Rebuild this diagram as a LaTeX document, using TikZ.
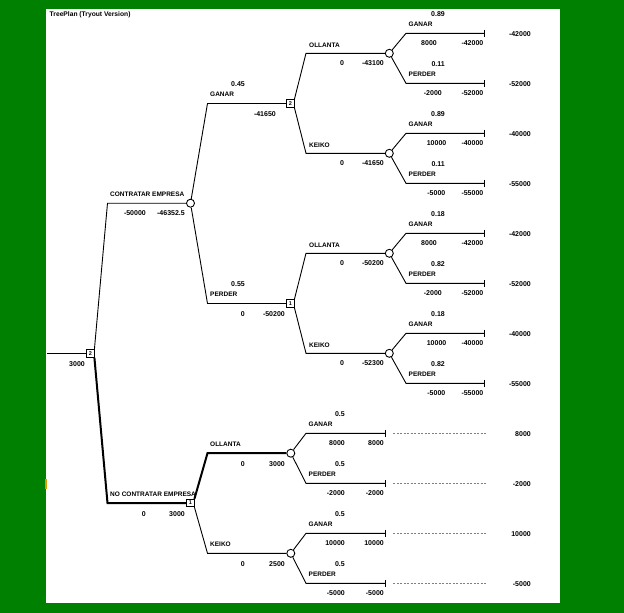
\documentclass[tikz,border=0pt]{standalone}
\usepackage{fontspec}
\setmainfont{Liberation Sans}
\definecolor{bggreen}{RGB}{0,128,0}
\definecolor{edgemark}{RGB}{230,150,0}
\tikzset{
  dec/.style={draw, rectangle, fill=white, minimum size=7.3pt, inner sep=0pt, line width=0.9pt, font=\fontsize{5.5}{6}\selectfont\bfseries},
  chn/.style={draw, circle, fill=white, minimum size=8pt, inner sep=0pt, line width=0.9pt},
  br/.style={line width=0.9pt},
  opt/.style={line width=2pt},
  dotline/.style={gray, line width=0.8pt, dash pattern=on 2pt off 1.5pt},
  num/.style={font=\fontsize{7}{8}\selectfont\bfseries, inner sep=0pt},
  lbl/.style={font=\fontsize{6.5}{7}\selectfont\bfseries, inner sep=0pt},
  ttl/.style={font=\fontsize{6.7}{7}\selectfont\bfseries, inner sep=0pt}
}
% upper terminal branch: id, parent, y, prob, label, cash, cash right x, value
\newcommand{\UTerm}[8]{%
  \coordinate (#1s) at (406,#3);
  \coordinate (#1e) at (484,#3);
  \draw[br] (#2) -- (#1s) -- (#1e);
  \draw[br] ([yshift=3.5pt]#1e) -- ([yshift=-3.5pt]#1e);
  \node[num,anchor=base east] (#1p) at (445,{#3-16.6}) {#4};
  \node[lbl,anchor=base west] (#1n) at (408.5,{#3-6.6}) {#5};
  \node[num,anchor=base east] (#1c) at (#7,{#3+12.4}) {#6};
  \node[num,anchor=base east] (#1v) at (483.5,{#3+12.4}) {#8};
  \node[num,anchor=base east] (#1t) at (531,{#3+2.7}) {#8};
}
% lower terminal branch: id, parent, y, prob, label, cash, value
\newcommand{\LTerm}[7]{%
  \coordinate (#1s) at (306,#3);
  \coordinate (#1e) at (385.3,#3);
  \coordinate (#1a) at (393,#3);
  \coordinate (#1d) at (486,#3);
  \draw[br] (#2) -- (#1s) -- (#1e);
  \draw[br] ([yshift=3.5pt]#1e) -- ([yshift=-3.5pt]#1e);
  \draw[dotline] (#1a) -- (#1d);
  \node[num,anchor=base east] (#1p) at (345,{#3-16.6}) {#4};
  \node[lbl,anchor=base west] (#1n) at (308.5,{#3-6.6}) {#5};
  \node[num,anchor=base east] (#1c) at (345,{#3+12.4}) {#6};
  \node[num,anchor=base east] (#1v) at (384,{#3+12.4}) {#7};
  \node[num,anchor=base east] (#1t) at (531,{#3+2.7}) {#7};
}
\begin{document}
\begin{tikzpicture}[x=1pt,y=-1pt]
\useasboundingbox (0,0) rectangle (624,613);
\fill[bggreen] (0,0) rectangle (624,613);
\fill[white] (46,9) rectangle (560,602.7);
\fill[edgemark] (45,479) rectangle (47.3,489);

\node[ttl,anchor=base west] (title) at (49.5,16.5) {TreePlan (Tryout Version)};

% nodes
\node[dec] (r) at (90.3,353.5) {2};
\coordinate (rin) at (47,353.5);
\node[chn] (c1) at (190.5,203.2) {};
\coordinate (c1s) at (107.5,203.2);
\node[dec] (d1) at (190.3,503) {1};
\coordinate (d1s) at (107.5,503);
\node[dec] (g) at (290.3,103.5) {2};
\coordinate (gs) at (207.5,103.5);
\node[dec] (p) at (290.3,303.5) {1};
\coordinate (ps) at (207.5,303.5);
\node[chn] (go) at (389.3,53.3) {};
\coordinate (gos) at (306,53.3);
\node[chn] (gk) at (389.3,153.3) {};
\coordinate (gks) at (306,153.3);
\node[chn] (po) at (389.3,253.3) {};
\coordinate (pos) at (306,253.3);
\node[chn] (pk) at (389.3,353.3) {};
\coordinate (pks) at (306,353.3);
\node[chn] (lo) at (290.8,453.2) {};
\coordinate (los) at (207.5,453.2);
\node[chn] (lk) at (290.8,553.3) {};
\coordinate (lks) at (207.5,553.3);

% connectors
\draw[br] (rin) -- (r);
\draw[br] (r.north east) -- (c1s) -- (c1);
\draw[opt] (r.south east) -- (d1s) -- (d1);
\draw[br] (c1) -- (gs) -- (g);
\draw[br] (c1) -- (ps) -- (p);
\draw[br] (g.north east) -- (gos) -- (go);
\draw[br] (g.south east) -- (gks) -- (gk);
\draw[br] (p.north east) -- (pos) -- (po);
\draw[br] (p.south east) -- (pks) -- (pk);
\draw[opt] (d1.north east) -- (los) -- (lo);
\draw[br] (d1.south east) -- (lks) -- (lk);

% labels
\node[num,anchor=base east] (rv) at (85,366.7) {3000};
\node[lbl,anchor=base west] (c1n) at (110,196.6) {CONTRATAR EMPRESA};
\node[num,anchor=base east] (c1c) at (146,215.9) {-50000};
\node[num,anchor=base east] (c1v) at (185,215.9) {-46352.5};
\node[lbl,anchor=base west] (d1n) at (110,496.7) {NO CONTRATAR EMPRESA};
\node[num,anchor=base east] (d1c) at (146,516.7) {0};
\node[num,anchor=base east] (d1v) at (185,516.7) {3000};
\node[num,anchor=base east] (gp) at (245,86.8) {0.45};
\node[lbl,anchor=base west] (gn) at (210,96.8) {GANAR};
\node[num,anchor=base east] (gv) at (276,116.8) {-41650};
\node[num,anchor=base east] (pp) at (245,286.9) {0.55};
\node[lbl,anchor=base west] (pn) at (210,296.9) {PERDER};
\node[num,anchor=base east] (pc) at (245,316.9) {0};
\node[num,anchor=base east] (pv) at (285,316.9) {-50200};
\node[lbl,anchor=base west] (gon) at (309,47) {OLLANTA};
\node[num,anchor=base east] (goc) at (344.3,65.3) {0};
\node[num,anchor=base east] (gov) at (384,65.3) {-43100};
\node[lbl,anchor=base west] (gkn) at (309,147) {KEIKO};
\node[num,anchor=base east] (gkc) at (344.3,165.3) {0};
\node[num,anchor=base east] (gkv) at (384,165.3) {-41650};
\node[lbl,anchor=base west] (pon) at (309,247) {OLLANTA};
\node[num,anchor=base east] (poc) at (344.3,265.3) {0};
\node[num,anchor=base east] (pov) at (384,265.3) {-50200};
\node[lbl,anchor=base west] (pkn) at (309,347) {KEIKO};
\node[num,anchor=base east] (pkc) at (344.3,365.3) {0};
\node[num,anchor=base east] (pkv) at (384,365.3) {-52300};
\node[lbl,anchor=base west] (lon) at (210,446.7) {OLLANTA};
\node[num,anchor=base east] (loc) at (245,466.7) {0};
\node[num,anchor=base east] (lov) at (285,466.7) {3000};
\node[lbl,anchor=base west] (lkn) at (210,546.7) {KEIKO};
\node[num,anchor=base east] (lkc) at (245,566.7) {0};
\node[num,anchor=base east] (lkv) at (285,566.7) {2500};

% terminal branches
\UTerm{ta}{go}{33.3}{0.89}{GANAR}{8000}{437}{-42000}
\UTerm{tb}{go}{83.3}{0.11}{PERDER}{-2000}{442}{-52000}
\UTerm{tc}{gk}{133.3}{0.89}{GANAR}{10000}{446.5}{-40000}
\UTerm{td}{gk}{183.3}{0.11}{PERDER}{-5000}{445.5}{-55000}
\UTerm{te}{po}{233.3}{0.18}{GANAR}{8000}{437}{-42000}
\UTerm{tf}{po}{283.3}{0.82}{PERDER}{-2000}{442}{-52000}
\UTerm{tg}{pk}{333.3}{0.18}{GANAR}{10000}{446.5}{-40000}
\UTerm{th}{pk}{383.3}{0.82}{PERDER}{-5000}{445.5}{-55000}
\LTerm{ti}{lo}{433.3}{0.5}{GANAR}{8000}{8000}
\LTerm{tj}{lo}{483.3}{0.5}{PERDER}{-2000}{-2000}
\LTerm{tk}{lk}{533.3}{0.5}{GANAR}{10000}{10000}
\LTerm{tl}{lk}{583.3}{0.5}{PERDER}{-5000}{-5000}
\end{tikzpicture}
\end{document}
